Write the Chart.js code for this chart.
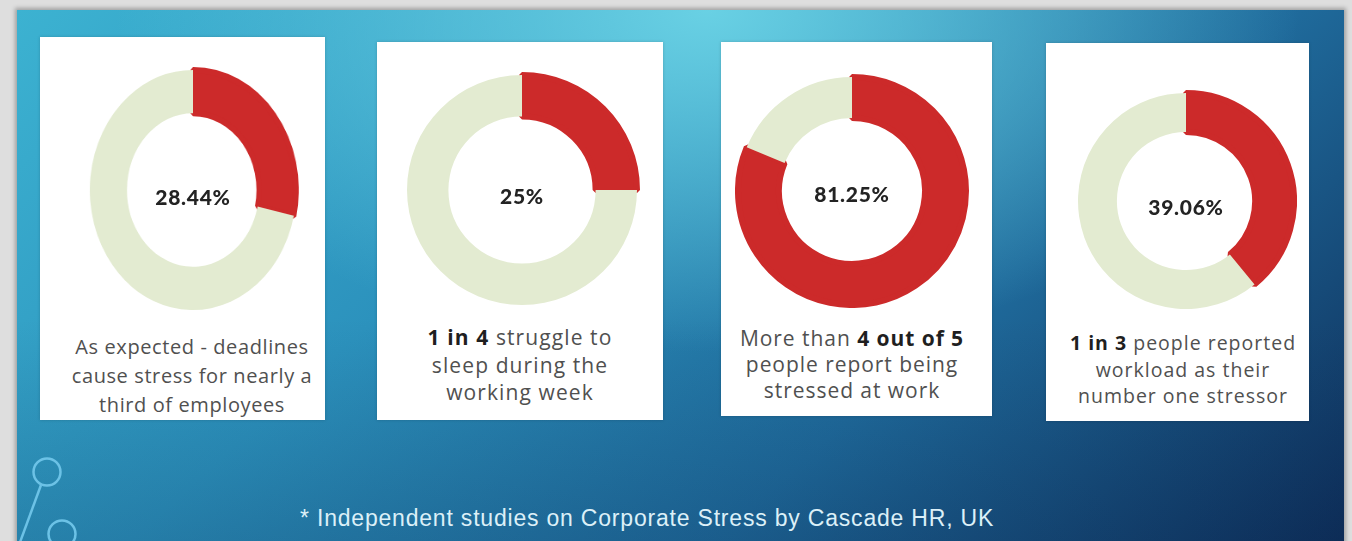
<!DOCTYPE html>
<html>
<head>
<meta charset="utf-8">
<script src="https://cdn.jsdelivr.net/npm/chart.js@4.4.1/dist/chart.umd.min.js"></script>
<style>
  html, body { margin: 0; padding: 0; }
  body {
    width: 1352px; height: 541px; overflow: hidden; position: relative;
    background: #dedede; font-family: 'Open Sans', sans-serif;
  }
  .slide {
    position: absolute; left: 17px; top: 10px; width: 1327px; height: 560px;
    box-shadow: 0 0 4px 2px rgba(0,0,0,0.28);
    background:
      linear-gradient(to bottom, rgba(8,40,80,0) 55%, rgba(8,40,80,0.22) 100%),
      radial-gradient(ellipse 62% 85% at 52% 0%, rgba(108,212,230,0.95) 0%, rgba(108,212,230,0) 72%),
      linear-gradient(138deg, #3cb2d1 0%, #2c92bd 36%, #1f6a9b 66%, #0d2a55 100%);
  }
  .card { position: absolute; background: #fff; box-shadow: 0 0 3px rgba(0,0,0,0.18); }
  .ring { position: absolute; }
  .pct {
    position: absolute; transform: translate(-50%, -50%);
    font-family: Lato, sans-serif; font-weight: 900; font-size: 21px; letter-spacing: 0.7px;
    color: #232323; white-space: nowrap;
  }
  .cap {
    position: absolute; transform: translateX(-50%); text-align: center;
    color: #505050; white-space: nowrap;
  }
  .cap b { color: #1f1f1f; font-weight: 700; }
  .note {
    position: absolute; left: 300px; top: 505px; font-family: 'Liberation Sans', sans-serif;
    font-size: 23px; letter-spacing: 0.8px; color: #dcf0f8; white-space: nowrap;
  }
  svg.deco { position: absolute; left: 0; top: 0; }
</style>
</head>
<body>
<div class="slide"></div>
<svg class="deco" width="120" height="541">
  <circle cx="47" cy="472" r="13.5" fill="none" stroke="#6cc2e6" stroke-width="2.5"/>
  <line x1="41" y1="485" x2="19" y2="545" stroke="#6cc2e6" stroke-width="2.5"/>
  <circle cx="62" cy="534" r="13.5" fill="none" stroke="#6cc2e6" stroke-width="2.5"/>
</svg>
<div class="note">* Independent studies on Corporate Stress by Cascade HR, UK</div>

<script>
// share of people in each study
const topics = ['Deadlines', 'Sleep', 'Stressed at work', 'Workload'];
const stressedPct = [28.44, 25, 81.25, 39.06];
const otherPct = [71.56, 75, 18.75, 60.94];
const centerLabels = ['28.44%', '25%', '81.25%', '39.06%'];
const captionLines = [
  ['As expected - deadlines', 'cause stress for nearly a', 'third of employees'],
  ['1 in 4 struggle to', 'sleep during the', 'working week'],
  ['More than 4 out of 5', 'people report being', 'stressed at work'],
  ['1 in 3 people reported', 'workload as their', 'number one stressor']
];
const boldParts = ['', '1 in 4', '4 out of 5', '1 in 3'];

const RED = '#cc2a2a';
const GREEN = '#e3ebd1';

// layout of each card (page pixels)
const layout = [
  { card: [40, 37, 285, 383], cx: 193, cy: 190, size: 246, sx: 0.86, labelY: 196, capX: 192, capY: 332, lh: 29, fs: 20, ls: 0.6 },
  { card: [377, 42, 286, 378], cx: 522, cy: 190, size: 236, sx: 1, labelY: 195, capX: 520, capY: 324, lh: 27.5, fs: 21, ls: 1.1 },
  { card: [721, 42, 271, 374], cx: 852, cy: 191, size: 234, sx: 1, labelY: 193, capX: 852, capY: 325, lh: 26, fs: 21, ls: 0.95 },
  { card: [1046, 43, 263, 378], cx: 1186, cy: 201, size: 222, sx: 1, labelY: 206, capX: 1183, capY: 330, lh: 26.5, fs: 19.5, ls: 1 }
];

topics.forEach((topic, i) => {
  const L = layout[i];
  const card = document.createElement('div');
  card.className = 'card';
  card.style.left = L.card[0] + 'px';
  card.style.top = L.card[1] + 'px';
  card.style.width = L.card[2] + 'px';
  card.style.height = L.card[3] + 'px';
  document.body.appendChild(card);

  const ring = document.createElement('div');
  ring.className = 'ring';
  ring.style.left = (L.cx - L.size / 2) + 'px';
  ring.style.top = (L.cy - L.size / 2) + 'px';
  ring.style.width = L.size + 'px';
  ring.style.height = L.size + 'px';
  ring.style.transform = 'scaleX(' + L.sx + ')';
  const canvas = document.createElement('canvas');
  ring.appendChild(canvas);
  document.body.appendChild(ring);

  new Chart(canvas, {
    type: 'doughnut',
    data: {
      labels: [topic, 'Other'],
      datasets: [{
        data: [stressedPct[i], otherPct[i]],
        backgroundColor: [RED, GREEN],
        borderColor: [RED, GREEN],
        borderWidth: [6, 0],
        borderAlign: 'center'
      }]
    },
    options: {
      responsive: true,
      maintainAspectRatio: false,
      animation: false,
      cutout: '64%',
      events: [],
      layout: { padding: 0 },
      plugins: { legend: { display: false }, tooltip: { enabled: false } }
    }
  });

  const pct = document.createElement('div');
  pct.className = 'pct';
  pct.style.left = L.cx + 'px';
  pct.style.top = L.labelY + 'px';
  pct.textContent = centerLabels[i];
  document.body.appendChild(pct);

  const cap = document.createElement('div');
  cap.className = 'cap';
  cap.style.left = L.capX + 'px';
  cap.style.top = L.capY + 'px';
  cap.style.fontSize = L.fs + 'px';
  cap.style.lineHeight = L.lh + 'px';
  cap.style.letterSpacing = L.ls + 'px';
  cap.innerHTML = captionLines[i].map((line, k) => {
    if (k === 0 && boldParts[i]) {
      return line.replace(boldParts[i], '<b>' + boldParts[i] + '</b>');
    }
    return line;
  }).join('<br>');
  document.body.appendChild(cap);
});
</script>
</body>
</html>
